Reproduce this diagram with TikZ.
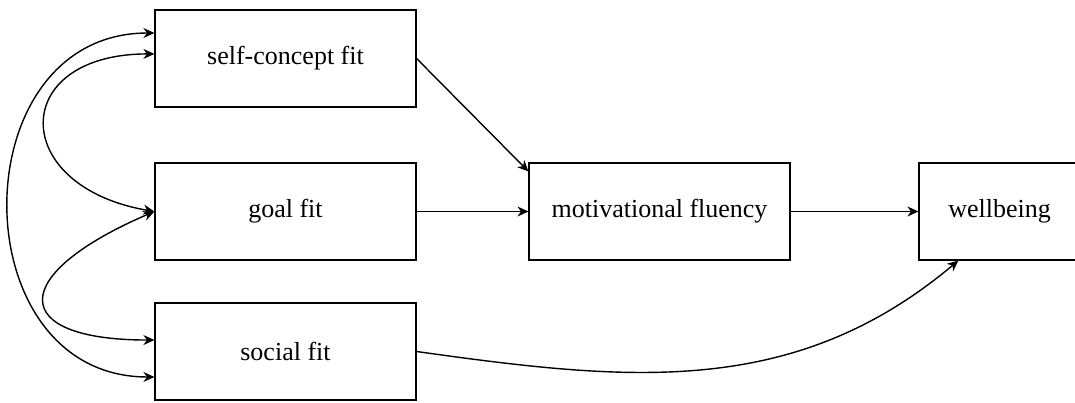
\documentclass[tikz,border=0pt]{standalone}
\usepackage{fontspec}
\setmainfont{Liberation Serif}
\usetikzlibrary{positioning, arrows.meta}

\begin{document}
\begin{tikzpicture}[x=0.5pt, y=0.5pt, >={Stealth[length=5.5pt,width=5pt]},
  box/.style={draw, line width=0.6pt, minimum width=130.5pt, minimum height=48.5pt, inner sep=0pt, font=\fontsize{13}{15}\selectfont},
  link/.style={line width=0.7pt}]
\useasboundingbox (0,0) rectangle (1075,402);
\node[box] at (285.5,343.5) (self) {self-concept fit};
\node[box] at (285.5,190.5) (goal) {goal fit};
\node[box] at (285.5,50.5) (social) {social fit};
\node[box] at (659.5,190.5) (motiv) {motivational fluency};
\node[box, minimum width=80.5pt] at (999.5,190.5) (well) {wellbeing};
\draw (self.east) edge[->, link] (motiv.163);
\draw (goal.east) edge[->, link] (motiv.west);
\draw (motiv.east) edge[->, link] (well.west);
\draw (social.east) edge[out=-8,in=-140,->, link] (well.230);
\draw (self.169) edge[out=180,in=180,looseness=1.45,<->, link] (social.191.5);
\draw[<->, link] (self.178) .. controls +(-146,0) and +(-146,25) .. (goal.west);
\draw[<->, link] (goal.west) .. controls +(-147,-63) and +(-147,0) .. (social.175);
\end{tikzpicture}
\end{document}
